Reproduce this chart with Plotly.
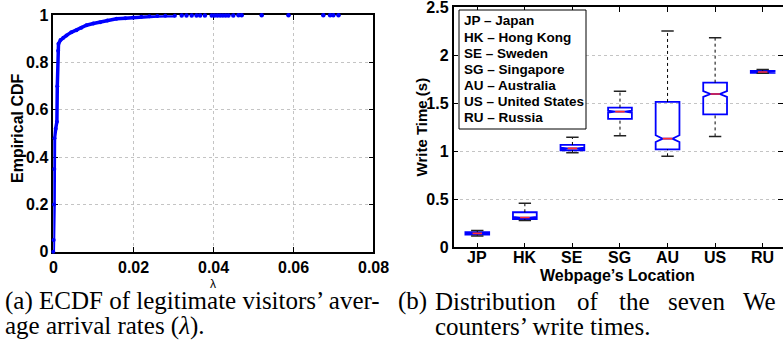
import plotly.graph_objects as go

W, H = 783, 349

# ---------------- data: left panel (ECDF of lambda) ----------------
lam_curve = [0, 0.0001, 0.0002, 0.00025, 0.0003, 0.0006, 0.0009, 0.001, 0.0012, 0.0013,
             0.0018, 0.0025, 0.0033, 0.0045, 0.0058, 0.007, 0.0083, 0.01, 0.0117, 0.0135,
             0.0158, 0.018, 0.02, 0.022, 0.024, 0.026, 0.028, 0.0304]
cdf_curve = [0, 0.05, 0.2, 0.35, 0.48, 0.52, 0.55, 0.7, 0.85, 0.88,
             0.895, 0.905, 0.915, 0.928, 0.937, 0.947, 0.958, 0.965, 0.971, 0.978,
             0.985, 0.988, 0.991, 0.994, 0.996, 0.997, 0.998, 0.9985]
lam_tail = [0.0321, 0.0333, 0.0346, 0.0358, 0.0367, 0.0379, 0.0396, 0.0403, 0.041, 0.0417,
            0.0424, 0.0431, 0.0438, 0.045, 0.0463, 0.0471, 0.0521, 0.0588, 0.0675, 0.0692,
            0.07, 0.0713]
cdf_tail = [0.9987, 0.9988, 0.9989, 0.999, 0.9991, 0.9992, 0.9993, 0.9993, 0.9994, 0.9994,
            0.9995, 0.9995, 0.9996, 0.9996, 0.9997, 0.9997, 0.9998, 0.9998, 0.9999, 0.9999,
            1.0, 1.0]
lam_ticks = [0, 0.02, 0.04, 0.06, 0.08]
lam_ticktext = ["0", "0.02", "0.04", "0.06", "0.08"]
cdf_ticks = [0, 0.2, 0.4, 0.6, 0.8, 1]
cdf_ticktext = ["0", "0.2", "0.4", "0.6", "0.8", "1"]

# ---------------- data: right panel (write times) ----------------
categories = ["JP", "HK", "SE", "SG", "AU", "US", "RU"]
countries = ["Japan", "Hong Kong", "Sweden", "Singapore", "Australia", "United States", "Russia"]
w_min = [0.118, 0.280, 0.985, 1.163, 0.948, 1.155, 1.812]
w_q1 = [0.132, 0.295, 1.010, 1.337, 1.021, 1.385, 1.818]
w_med = [0.145, 0.310, 1.030, 1.413, 1.132, 1.597, 1.826]
w_q3 = [0.157, 0.365, 1.066, 1.455, 1.514, 1.715, 1.838]
w_max = [0.175, 0.458, 1.146, 1.625, 2.253, 2.183, 1.853]
w_notch = [0.004, 0.008, 0.008, 0.010, 0.035, 0.030, 0.003]
wt_ticks = [0, 0.5, 1, 1.5, 2, 2.5]
wt_ticktext = ["0", "0.5", "1", "1.5", "2", "2.5"]

BLUE = "#0000ff"
SANS = "Liberation Sans, Arial, sans-serif"
SERIF = "Liberation Serif, Times New Roman, serif"

fig = go.Figure()

# ECDF curve
fig.add_trace(go.Scatter(x=lam_curve, y=cdf_curve, mode="lines+markers",
                         line=dict(color=BLUE, width=3.5), marker=dict(size=4, color=BLUE),
                         cliponaxis=False, xaxis="x", yaxis="y", showlegend=False))
fig.add_trace(go.Scatter(x=lam_tail, y=cdf_tail, mode="markers",
                         marker=dict(size=4.5, color=BLUE),
                         cliponaxis=False, xaxis="x", yaxis="y", showlegend=False))

# Boxplots
pos = [i + 1 for i in range(len(categories))]
wx, wy, cx, cy, mx, my = [], [], [], [], [], []
for p, lo, a, m, b, hi in zip(pos, w_min, w_q1, w_med, w_q3, w_max):
    wx += [p, p, None, p, p, None]
    wy += [b, hi, None, lo, a, None]
    cx += [p - 0.13, p + 0.13, None, p - 0.13, p + 0.13, None]
    cy += [hi, hi, None, lo, lo, None]
    mx += [p - 0.1, p + 0.1, None]
    my += [m, m, None]

fig.add_trace(go.Scatter(x=wx, y=wy, mode="lines", line=dict(color="black", width=1, dash="dot"),
                         xaxis="x2", yaxis="y2", showlegend=False, hoverinfo="skip"))
fig.add_trace(go.Scatter(x=cx, y=cy, mode="lines", line=dict(color="#222222", width=1.5),
                         xaxis="x2", yaxis="y2", showlegend=False, hoverinfo="skip"))
fig.add_trace(go.Box(x=pos, q1=w_q1, median=w_med, q3=w_q3, lowerfence=w_q1, upperfence=w_q3,
                     notched=True, notchspan=w_notch, notchwidth=0.3, width=0.5,
                     line=dict(color=BLUE, width=1.8), fillcolor="rgba(0,0,0,0)",
                     boxpoints=False, whiskerwidth=0, xaxis="x2", yaxis="y2", showlegend=False))
fig.add_trace(go.Scatter(x=mx, y=my, mode="lines", line=dict(color="#ff3030", width=1.6),
                         xaxis="x2", yaxis="y2", showlegend=False, hoverinfo="skip"))

axis_common = dict(showline=True, linecolor="black", linewidth=1.5, mirror="allticks",
                   ticks="inside", ticklen=5, tickwidth=1, tickcolor="black", zeroline=False,
                   tickfont=dict(family=SANS, size=16, color="black", weight="bold"),
                   layer="below traces", automargin=False, ticklabeloverflow="allow")
grid = dict(showgrid=True, gridcolor="#c4c4c4", griddash="dot", gridwidth=1)

fig.update_layout(
    width=W, height=H, margin=dict(l=0, r=0, t=0, b=0, pad=0, autoexpand=False),
    paper_bgcolor="white", plot_bgcolor="white", showlegend=False,
    xaxis=dict(domain=[53.3 / W, 373.3 / W], range=[0, 0.08], tickvals=lam_ticks,
               showticklabels=False, anchor="y", **grid, **axis_common),
    yaxis=dict(domain=[1 - 251.7 / H, 1 - 15.3 / H], range=[0, 1], tickvals=cdf_ticks,
               ticktext=cdf_ticktext, anchor="x", **grid, **axis_common),
    xaxis2=dict(domain=[453.5 / W, 1.0], range=[0.5, 7.427], tickvals=pos,
                showticklabels=False, anchor="y2", showgrid=False, **axis_common),
    yaxis2=dict(domain=[1 - 247.3 / H, 1 - 7.3 / H], range=[0, 2.5], tickvals=wt_ticks,
                ticktext=wt_ticktext, anchor="x2", **grid, **axis_common),
)

def px(x):
    return x / W

def py(y):
    return 1 - y / H

tick_font = dict(family=SANS, size=16, color="black", weight="bold")
ann = []
# x tick labels placed on the data axes
for v, t in zip(lam_ticks, lam_ticktext):
    ann.append(dict(text=t, x=v, xref="x", y=py(267.5), font=tick_font))
for v, t in zip(pos, categories):
    ann.append(dict(text=t, x=v, xref="x2", y=py(257), font=tick_font))

# axis titles
ann.append(dict(text="Empirical CDF", x=px(18), y=py(128), textangle=-90,
                font=dict(family=SANS, size=16, color="black", weight="bold")))
ann.append(dict(text="Write Time (s)", x=px(421), y=py(127.5), textangle=-90,
                font=dict(family=SANS, size=15, color="black", weight="bold")))
ann.append(dict(text="Webpage’s Location", x=px(617), y=py(275),
                font=dict(family=SANS, size=16, color="black", weight="bold")))
ann.append(dict(text="λ", x=px(213), y=py(284),
                font=dict(family=SANS, size=12, color="black")))

# legend box text
legend_y = [20.7, 37.3, 53.3, 69.3, 85.3, 101.7, 117.7]
for code, name, yc in zip(categories, countries, legend_y):
    ann.append(dict(text=f"{code} – {name}", x=px(461.5), y=py(yc), xanchor="left",
                    font=dict(family=SANS, size=13.5, color="black", weight="bold")))

# captions
cap_font = dict(family=SERIF, size=25, color="black")
ann.append(dict(text="(a) ECDF of legitimate visitors’ aver-", x=px(3), y=py(301),
                xanchor="left", font=cap_font))
ann.append(dict(text="age arrival rates (<i>λ</i>).", x=px(3), y=py(326),
                xanchor="left", font=cap_font))
cap_b_words = ["(b)", "Distribution", "of", "the", "seven", "We"]
cap_b_x = [396, 433, 575, 617, 666, 741]
for wd, xw in zip(cap_b_words, cap_b_x):
    ann.append(dict(text=wd, x=px(xw), y=py(301), xanchor="left", font=cap_font))
ann.append(dict(text="counters’ write times.", x=px(433), y=py(326),
                xanchor="left", font=cap_font))

for a in ann:
    a.setdefault("xanchor", "center")
    a.setdefault("xref", "paper")
    a.update(yref="paper", yanchor="middle", showarrow=False)

fig.update_layout(
    annotations=ann,
    shapes=[dict(type="rect", xref="paper", yref="paper", x0=px(459), x1=px(586),
                 y0=py(129), y1=py(10), line=dict(color="black", width=1),
                 fillcolor="white", layer="above")],
)

fig.write_html(
    "out.html",
    config={"displayModeBar": False},
    post_script="document.body.style.margin='0px';"
                "document.documentElement.style.overflow='hidden';",
)
